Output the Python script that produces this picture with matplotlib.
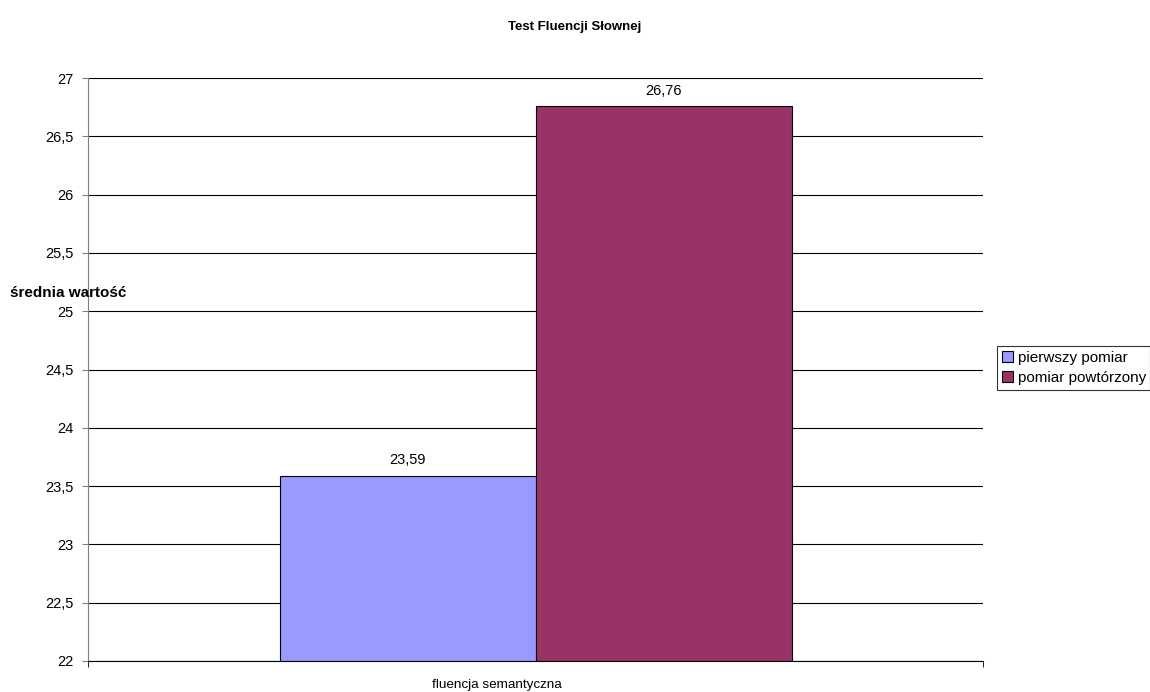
import matplotlib.pyplot as plt
from matplotlib.ticker import FixedLocator

plt.rcParams['font.family'] = ['Liberation Sans', 'DejaVu Sans']

category = "fluencja semantyczna"
series = ["pierwszy pomiar", "pomiar powtórzony"]
values = [23.59, 26.76]
colors = ["#9999FF", "#993366"]
yticks = [22, 22.5, 23, 23.5, 24, 24.5, 25, 25.5, 26, 26.5, 27]

fig = plt.figure(figsize=(11.5, 6.92), dpi=100)
ax = fig.add_axes([88 / 1150, 1 - 661 / 692, (983 - 88) / 1150, (661 - 78) / 692])

width = 256 / 895
offsets = [-width / 2, width / 2]
for name, val, col, off in zip(series, values, colors, offsets):
    ax.bar(off, val - 22, bottom=22, width=width, color=col,
           edgecolor='black', linewidth=0.8, label=name, zorder=3)
    ax.text(off, val + 0.07, f"{val:.2f}".replace('.', ','), ha='center',
            va='bottom', fontsize=10.5)

ax.set_xlim(-0.5, 0.5)
ax.set_ylim(22, 27)
ax.set_yticks(yticks)
ax.set_yticklabels([f"{t:g}".replace('.', ',') for t in yticks], fontsize=10.5)
ax.yaxis.grid(True, color='black', linewidth=0.8, zorder=0)
ax.set_xticks([])
ax.xaxis.set_minor_locator(FixedLocator([-0.5, 0.5]))
ax.tick_params(axis='x', which='minor', length=4, color='black')
ax.tick_params(axis='y', length=4.5, pad=6, color='#808080')

for s in ['top', 'right']:
    ax.spines[s].set_visible(False)
ax.spines['left'].set_color('#808080')
ax.spines['bottom'].set_color('black')

fig.text(497 / 1150, 1 - 685 / 692, category, ha='center', va='center',
         fontsize=9.7)
fig.text(575 / 1150, 1 - 27 / 692, "Test Fluencji Słownej", ha='center',
         va='center', fontsize=9.5, fontweight='bold')
fig.text(10 / 1150, 1 - 293 / 692, "średnia wartość", ha='left',
         va='center', fontsize=11, fontweight='bold')

leg = fig.legend(loc='center left', bbox_to_anchor=(997 / 1150, 1 - 368 / 692),
                 fontsize=11, frameon=True, fancybox=False, handlelength=0.75,
                 handleheight=0.75, handletextpad=0.3, borderpad=0.3,
                 labelspacing=0.4, borderaxespad=0)
leg.get_frame().set_edgecolor('black')
leg.get_frame().set_linewidth(0.8)

fig.savefig("out.png", dpi=100)
